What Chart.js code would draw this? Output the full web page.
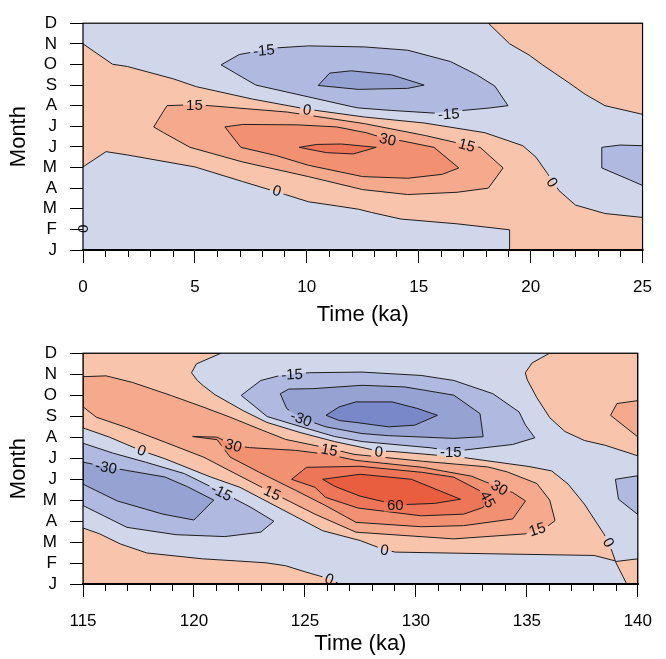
<!DOCTYPE html>
<html lang="en">
<head>
    <meta charset="UTF-8">
    <title>Month / Time contours</title>
    <script src="https://cdn.jsdelivr.net/npm/chart.js"></script>
    <style>
        body {
            margin: 0;
            background: #ffffff;
            width: 666px;
            height: 659px;
            overflow: hidden;
        }
        canvas {
            display: block;
        }
    </style>
</head>
<body>
    <canvas id="topChart" width="666" height="330"></canvas>
    <canvas id="bottomChart" width="666" height="329"></canvas>

    <script>
        // Month tick labels, index 0 = January at the bottom
        const months = ['J', 'F', 'M', 'A', 'M', 'J', 'J', 'A', 'S', 'O', 'N', 'D'];

        // ---- top panel (0 - 25 ka): contour regions as [time ka, month index] ----
        const topPos0Band = [[0, 10.00], [1.32, 9.01], [1.98, 8.90], [4.04, 8.30], [5.07, 7.92], [7.57, 7.32],
            [10.01, 6.83], [12.57, 6.45], [15.24, 6.16], [17.95, 5.69], [19.65, 5.06], [20.24, 4.50],
            [20.75, 3.71], [21.27, 2.88], [22.00, 2.18], [23.32, 1.77], [25, 1.58], [25, 0], [19.06, 0],
            [19.06, 0.98], [16.71, 1.27], [14.21, 1.50], [12.89, 1.82], [12.30, 1.98], [11.39, 2.13],
            [10.07, 2.34], [9.04, 2.69], [7.13, 3.32], [5.00, 4.03], [1.98, 4.61], [1.03, 4.77], [0, 4.03]];
        const topPos0Corner = [[18.11, 11], [25, 11], [25, 6.58], [23.32, 7.00], [22.44, 7.55], [21.71, 8.11],
            [20.53, 8.98], [19.94, 9.45], [19.06, 10.00]];
        const topPos15 = [[3.16, 5.97], [3.75, 7.00], [4.98, 7.05], [5.64, 7.00], [9.13, 6.69], [12.57, 6.13],
            [15.30, 5.55], [17.15, 5.09], [17.74, 4.98], [18.77, 3.98], [18.11, 3.00], [16.71, 2.80],
            [14.51, 2.69], [12.49, 2.93], [10.07, 3.56], [7.13, 4.27], [4.78, 4.98], [3.60, 5.69]];
        const topPos30 = [[6.34, 5.97], [7.14, 6.09], [9.57, 6.07], [11.33, 5.97], [12.65, 5.69], [13.62, 5.37],
            [14.21, 5.30], [15.68, 4.98], [16.79, 3.98], [16.05, 3.67], [14.51, 3.48], [12.49, 3.56],
            [10.07, 4.11], [8.60, 4.59], [7.05, 4.98]];
        const topPos45 = [[9.66, 4.98], [10.45, 5.12], [11.55, 5.14], [13.10, 4.98], [12.08, 4.66], [10.89, 4.72],
            [10.45, 4.81]];
        const topNeg15 = [[6.17, 8.98], [6.98, 9.48], [8.60, 9.80], [10.07, 9.90], [12.57, 9.85], [14.51, 9.69],
            [16.42, 9.14], [17.59, 8.50], [18.40, 7.95], [18.99, 7.00], [18.18, 6.89], [15.68, 6.64],
            [13.77, 6.77], [12.30, 6.89], [11.98, 6.96], [7.72, 8.00]];
        const topNeg30 = [[10.51, 7.98], [11.02, 8.58], [11.98, 8.69], [13.77, 8.50], [15.24, 8.00], [14.51, 7.84],
            [12.30, 7.79]];
        const topNeg15Edge = [[23.18, 4.98], [23.99, 5.09], [25, 5.06], [25, 3.13], [24.43, 3.40], [23.18, 3.98]];

        // ---- bottom panel (115 - 140 ka) ----
        const botPos0Main = [[115, 11], [121.22, 11], [120.11, 10.49], [119.89, 10.07], [120.16, 9.69],
            [120.42, 9.45], [120.95, 9.02], [122.22, 8.26], [123.29, 7.70], [124.78, 7.22], [126.33, 6.79],
            [127.57, 6.51], [128.32, 6.33], [128.92, 6.32], [132.06, 6.04], [135.09, 5.60], [136.12, 5.39],
            [136.86, 4.76], [137.59, 3.81], [138.47, 2.39], [138.69, 1.99], [138.99, 1.10], [138.03, 1.36],
            [133.39, 1.44], [129.07, 1.52], [128.59, 1.63], [127.49, 2.07], [125.80, 2.54], [123.60, 3.76],
            [122.07, 4.61], [120.75, 5.10], [118.69, 5.97], [117.59, 6.37], [116.19, 7.00], [115, 7.44]];
        const botPos0Low = [[115, 2.67], [115.75, 2.39], [116.68, 1.91], [117.87, 1.48], [120.38, 1.20],
            [121.92, 1.10], [123.25, 1.01], [124.13, 0.87], [125.01, 0.58], [126.10, 0.25], [126.55, 0], [115, 0]];
        const botPos0Corner = [[138.99, 1.07], [140, 1.20], [140, 0], [139.50, 0]];
        const botPos0Top = [[136.03, 11], [140, 11], [140, 6.11], [138.53, 6.61], [137.59, 6.84], [136.71, 7.27],
            [136.03, 7.93], [135.45, 8.88], [135.02, 9.73], [134.93, 10.07], [135.24, 10.54]];
        const botPos15 = [[115, 9.88], [116.04, 9.92], [117.22, 9.61], [118.98, 8.98], [120.45, 8.42],
            [121.63, 7.95], [123.10, 7.32], [124.13, 6.89], [126.10, 6.46], [127.21, 6.18], [130.30, 5.85],
            [133.24, 5.58], [134.12, 5.34], [135.45, 4.79], [136.03, 4.00], [136.27, 3.02], [135.97, 2.78],
            [134.94, 2.39], [131.71, 2.15], [127.30, 2.47], [125.45, 3.33], [123.53, 4.35], [121.92, 5.23],
            [120.45, 6.04], [118.69, 6.76], [116.93, 7.47], [115.60, 7.95], [115, 8.45]];
        const botPos15Edge = [[138.77, 8.04], [139.06, 8.60], [140, 8.74], [140, 7.01]];
        const botPos30 = [[119.94, 7.03], [121.04, 7.00], [121.78, 6.61], [122.50, 6.50], [124.57, 6.37],
            [126.02, 6.18], [127.30, 5.89], [130.30, 5.56], [132.50, 5.14], [133.77, 4.60], [134.36, 4.36],
            [134.94, 3.96], [134.36, 3.10], [132.15, 2.78], [130.24, 2.73], [127.30, 2.94], [125.89, 3.76],
            [124.57, 4.47], [122.95, 5.32], [121.63, 6.05], [121.04, 6.88]];
        const botPos45 = [[124.40, 4.99], [125.07, 5.56], [127.48, 5.61], [130.30, 5.32], [131.71, 5.09],
            [132.89, 4.44], [133.25, 4.04], [133.03, 3.65], [132.15, 3.33], [130.24, 3.25], [127.39, 3.62],
            [125.93, 4.13], [125.45, 4.61]];
        const botPos60 = [[125.80, 4.99], [127.49, 5.23], [129.80, 4.99], [132.01, 4.04], [130.83, 3.84],
            [129.07, 3.77], [128.48, 3.94], [127.48, 4.19], [126.33, 4.66]];
        const botNeg15Top = [[122.13, 8.99], [123.01, 9.70], [123.89, 9.94], [124.55, 10.02], [125.22, 10.07],
            [127.57, 10.10], [130.24, 9.94], [131.71, 9.70], [133.47, 9.07], [134.65, 8.20], [134.94, 7.57],
            [135.36, 6.97], [134.36, 6.65], [132.15, 6.38], [131.57, 6.34], [130.68, 6.49], [127.57, 6.79],
            [126.33, 7.03], [124.78, 7.51], [123.30, 7.98]];
        const botNeg30Top = [[123.89, 9.07], [124.27, 9.29], [125.36, 9.31], [127.57, 9.47], [129.51, 9.39],
            [131.71, 9.00], [132.89, 8.12], [133.03, 7.02], [131.71, 6.94], [128.77, 7.07], [127.57, 7.17],
            [125.95, 7.49], [124.85, 7.89], [124.18, 8.36]];
        const botNeg45Top = [[125.95, 8.04], [126.54, 8.44], [127.30, 8.68], [128.92, 8.68], [130.09, 8.36],
            [130.97, 8.04], [129.95, 7.57], [128.77, 7.49], [127.30, 7.70], [126.55, 7.79]];
        const botNeg15Left = [[115, 6.71], [116.34, 6.24], [117.81, 5.81], [119.57, 5.26], [121.25, 4.38],
            [122.57, 3.65], [123.60, 2.99], [123.01, 2.47], [121.39, 2.26], [119.19, 2.35], [116.98, 2.70],
            [115, 3.74]];
        const botNeg30Left = [[115, 5.81], [116.04, 5.58], [116.93, 5.42], [118.69, 5.10], [119.72, 4.63],
            [120.89, 4.00], [120.00, 3.05], [118.60, 3.33], [116.54, 3.96], [115, 4.76]];
        const botNeg15Edge = [[138.99, 4.99], [140, 5.16], [140, 3.31], [139.13, 4.04]];

        // contour labels (text and where it sits, in data units)
        const topLabels = [
            { text: '-15', t: 8.08, m: 9.69 }, { text: '-15', t: 16.34, m: 6.61 },
            { text: '15', t: 4.98, m: 7.05 }, { text: '0', t: 10.02, m: 6.81 },
            { text: '30', t: 13.62, m: 5.37 }, { text: '15', t: 17.15, m: 5.09 },
            { text: '0', t: 20.97, m: 3.29 }, { text: '0', t: 8.67, m: 2.88 },
            { text: '0', t: 0, m: 1.03 }
        ];
        const bottomLabels = [
            { text: '-15', t: 124.42, m: 10.00 }, { text: '-30', t: 124.83, m: 7.89 },
            { text: '0', t: 117.65, m: 6.38 }, { text: '-30', t: 116.04, m: 5.58 },
            { text: '-15', t: 121.25, m: 4.38 }, { text: '15', t: 123.53, m: 4.35 },
            { text: '30', t: 121.78, m: 6.61 }, { text: '15', t: 126.10, m: 6.40 },
            { text: '0', t: 128.33, m: 6.32 }, { text: '-15', t: 131.57, m: 6.32 },
            { text: '60', t: 129.07, m: 3.77 }, { text: '45', t: 133.25, m: 4.04 },
            { text: '30', t: 133.77, m: 4.60 }, { text: '15', t: 135.46, m: 2.62 },
            { text: '0', t: 128.59, m: 1.63 }, { text: '0', t: 126.10, m: 0.25 },
            { text: '0', t: 138.69, m: 1.99 }
        ];

        // ---- styling ----
        const topLabelTilt = [-5, -3, 0, 9, 12, 15, 57, 17, 90];
        const bottomLabelTilt = [-3, 20, 21, 10, 27, 25, 15, 10, 5, 0, 0, 62, 30, -18, 8, 20, 60];
        const BACKGROUND = '#d0d7eb';   // -15 .. 0
        const LEVEL_FILL = {
            '-45': '#7888c8', '-30': '#96a3d2', '-15': '#b0b9e0',
            '0': '#f8c4ac', '15': '#f6aa8d', '30': '#f29072', '45': '#ee7658', '60': '#ea5e40'
        };
        const LINE_COLOR = '#1e1e1e';
        const FONT = '"Liberation Sans", Arial, Helvetica, sans-serif';

        function labelCorners(ctx, x, y, w, h, deg) {
            const a = deg * Math.PI / 180, c = Math.cos(a), s = Math.sin(a);
            return [[-w / 2, -h / 2], [w / 2, -h / 2], [w / 2, h / 2], [-w / 2, h / 2]]
                .map(([dx, dy]) => [x + dx * c - dy * s, y + dx * s + dy * c]);
        }

        // fills the regions under the lines, breaks lines at labels, draws labels, frame, minor ticks
        const contourPlugin = {
            id: 'contours',
            beforeDatasetsDraw(chart, args, opts) {
                const { ctx, chartArea: a } = chart;
                ctx.save();
                ctx.beginPath();
                ctx.rect(a.left, a.top, a.width, a.height);
                ctx.clip();
                ctx.fillStyle = BACKGROUND;
                ctx.fillRect(a.left, a.top, a.width, a.height);
                chart.data.datasets.forEach((ds, i) => {
                    const pts = chart.getDatasetMeta(i).data;
                    ctx.beginPath();
                    pts.forEach((p, j) => j ? ctx.lineTo(p.x, p.y) : ctx.moveTo(p.x, p.y));
                    ctx.closePath();
                    ctx.fillStyle = ds.areaColor;
                    ctx.fill();
                });
                ctx.restore();

                // keep the contour lines out of the label boxes
                ctx.save();
                ctx.font = '15px ' + FONT;
                ctx.beginPath();
                ctx.rect(0, 0, chart.width, chart.height);
                opts.labels.forEach((l, i) => {
                    const x = chart.scales.x.getPixelForValue(l.t);
                    const y = chart.scales.y.getPixelForValue(l.m);
                    const w = ctx.measureText(l.text).width + 6;
                    const c = labelCorners(ctx, x, y, w, 13, opts.tilts[i]);
                    ctx.moveTo(c[0][0], c[0][1]);
                    c.slice(1).forEach(p => ctx.lineTo(p[0], p[1]));
                    ctx.closePath();
                });
                ctx.clip('evenodd');
            },
            afterDatasetsDraw(chart, args, opts) {
                const { ctx } = chart;
                ctx.restore();
                ctx.save();
                ctx.font = '15px ' + FONT;
                ctx.fillStyle = '#111111';
                ctx.textAlign = 'center';
                ctx.textBaseline = 'middle';
                opts.labels.forEach((l, i) => {
                    const x = chart.scales.x.getPixelForValue(l.t);
                    const y = chart.scales.y.getPixelForValue(l.m);
                    ctx.save();
                    ctx.translate(x, y);
                    ctx.rotate(opts.tilts[i] * Math.PI / 180);
                    ctx.fillText(l.text, 0, 1);
                    ctx.restore();
                });
                ctx.restore();
            },
            afterDraw(chart, args, opts) {
                const { ctx, chartArea: a } = chart;
                const xs = chart.scales.x;
                ctx.save();
                ctx.strokeStyle = '#000000';
                // minor ticks every 1 ka
                ctx.lineWidth = 1;
                ctx.beginPath();
                for (let t = xs.min; t <= xs.max; t += 1) {
                    if ((t - xs.min) % 5 === 0) continue;
                    const px = Math.round(xs.getPixelForValue(t)) + 0.5;
                    ctx.moveTo(px, a.bottom);
                    ctx.lineTo(px, a.bottom + 7);
                }
                ctx.stroke();
                // frame
                ctx.lineWidth = 1.2;
                ctx.strokeRect(a.left, a.top, a.width, a.height);
                ctx.lineWidth = 2.2;
                ctx.beginPath();
                ctx.moveTo(a.left - 1, a.bottom);
                ctx.lineTo(a.right + 1, a.bottom);
                ctx.stroke();
                ctx.restore();
            }
        };

        function panelConfig(p) {
            return {
                type: 'scatter',
                data: {
                    datasets: p.regions.map(r => ({
                        data: r.pts.concat([r.pts[0]]).map(([x, y]) => ({ x, y })),
                        showLine: true,
                        fill: false,
                        tension: 0,
                        borderColor: LINE_COLOR,
                        borderWidth: 1,
                        pointRadius: 0,
                        pointHoverRadius: 0,
                        areaColor: LEVEL_FILL[r.level]
                    }))
                },
                options: {
                    responsive: false,
                    animation: false,
                    events: [],
                    devicePixelRatio: 1,
                    layout: { padding: { top: p.padTop, right: 16, bottom: 0, left: 0 } },
                    scales: {
                        x: {
                            type: 'linear',
                            min: p.tMin,
                            max: p.tMax,
                            afterFit: s => { s.height = p.axisHeight; },
                            border: { display: false },
                            grid: { drawOnChartArea: false, tickLength: 13, tickColor: '#000', tickWidth: 1 },
                            ticks: {
                                stepSize: 5, autoSkip: false, maxRotation: 0, padding: 14,
                                color: '#000', font: { family: FONT, size: 17 }
                            },
                            title: {
                                display: true, text: 'Time (ka)', color: '#000',
                                font: { family: FONT, size: 22 }, padding: { top: 0, bottom: 2 }
                            }
                        },
                        y: {
                            type: 'linear',
                            min: 0,
                            max: 11,
                            afterFit: s => { s.width = 83; },
                            border: { display: false },
                            grid: { drawOnChartArea: false, tickLength: 13, tickColor: '#000', tickWidth: 1 },
                            ticks: {
                                stepSize: 1, autoSkip: false, padding: 13,
                                color: '#000', font: { family: FONT, size: 17 },
                                callback: v => months[v]
                            },
                            title: {
                                display: true, text: 'Month', color: '#000',
                                font: { family: FONT, size: 22 }, padding: { top: 6, bottom: 0 }
                            }
                        }
                    },
                    plugins: {
                        legend: { display: false },
                        tooltip: { enabled: false },
                        contours: { labels: p.labels, tilts: p.tilts }
                    }
                },
                plugins: [contourPlugin]
            };
        }

        new Chart(document.getElementById('topChart'), panelConfig({
            tMin: 0, tMax: 25, padTop: 18, axisHeight: 80,
            labels: topLabels, tilts: topLabelTilt,
            regions: [
                { level: 0, pts: topPos0Band }, { level: 0, pts: topPos0Corner },
                { level: 15, pts: topPos15 }, { level: 30, pts: topPos30 }, { level: 45, pts: topPos45 },
                { level: -15, pts: topNeg15 }, { level: -30, pts: topNeg30 }, { level: -15, pts: topNeg15Edge }
            ]
        }));

        new Chart(document.getElementById('bottomChart'), panelConfig({
            tMin: 115, tMax: 140, padTop: 22, axisHeight: 75,
            labels: bottomLabels, tilts: bottomLabelTilt,
            regions: [
                { level: 0, pts: botPos0Main }, { level: 0, pts: botPos0Low }, { level: 0, pts: botPos0Corner },
                { level: 0, pts: botPos0Top }, { level: 15, pts: botPos15 }, { level: 15, pts: botPos15Edge },
                { level: 30, pts: botPos30 }, { level: 45, pts: botPos45 }, { level: 60, pts: botPos60 },
                { level: -15, pts: botNeg15Top }, { level: -30, pts: botNeg30Top }, { level: -45, pts: botNeg45Top },
                { level: -15, pts: botNeg15Left }, { level: -30, pts: botNeg30Left }, { level: -15, pts: botNeg15Edge }
            ]
        }));
    </script>
</body>
</html>
